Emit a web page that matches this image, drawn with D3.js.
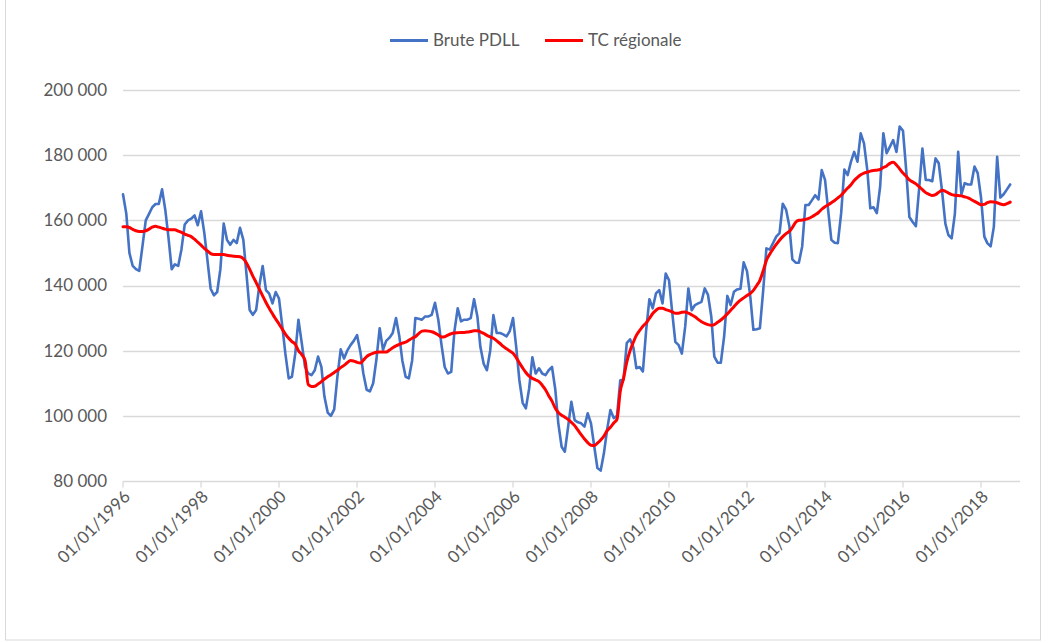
<!DOCTYPE html>
<html>
<head>
<meta charset="utf-8">
<script src="https://cdn.jsdelivr.net/npm/d3@7/dist/d3.min.js"></script>
<style>
  body { margin: 0; background: #fff; }
  text { font-family: Lato, "Open Sans", sans-serif; fill: #595959; }
</style>
</head>
<body>
<div id="chart"></div>
<script>
// monthly series, thousands, Jan 1996 -> Oct 2018
var brutePDLL = [
  168, 162, 150, 146, 145, 144.5, 152, 160, 162, 164, 165, 165,
  169.5, 163, 155, 145, 146.5, 146, 151, 158.7, 160, 160.5, 161.5, 158.5,
  162.8, 156, 148, 139, 137, 138, 145, 159, 154, 152.5, 154, 153,
  157.7, 154, 144, 132.5, 131, 132.5, 140, 146, 138.6, 137.5, 134.5, 138,
  136, 127.5, 119, 111.5, 112, 119, 129.5, 122.4, 115, 113, 112.5, 114,
  118.2, 115, 106, 101, 100, 102, 112, 120.4, 117.6, 120, 121.7, 123,
  124.8, 119.7, 113, 108, 107.5, 110, 117.2, 126.9, 120.3, 123, 124, 125.4,
  130, 124.4, 117, 112, 111.5, 117, 130, 129.8, 129.5, 130.5, 130.5, 131,
  134.7, 129.5, 122, 115, 113, 113.5, 126, 133, 129, 129.5, 129.5, 130,
  135.8, 130.5, 121.2, 116, 114, 120, 130.9, 125.4, 125.4, 125, 124.4, 126,
  130, 120.7, 111, 104, 102.3, 108.4, 118, 113, 114.6, 113, 112.5, 114,
  115, 108, 97.7, 90.5, 89, 96.7, 104.3, 98.7, 98, 97.7, 96.7, 100.8,
  97.7, 90.5, 84, 83.2, 88.5, 96, 101.8, 99.3, 100, 110.9, 111.1, 122.3,
  123.5, 121, 114.6, 115, 113.6, 126.4, 135.8, 133, 137.6, 138.6, 134.5, 143.7,
  141.6, 131.4, 122.7, 121.7, 119.1, 127.3, 139.1, 132.4, 134, 134.5, 135, 139.1,
  137.1, 130.4, 118.2, 116.3, 116.3, 124.4, 136.8, 134, 138.1, 138.8, 139, 147.1,
  144.4, 136.6, 126.4, 126.6, 126.9, 138.6, 151.4, 151, 153, 155, 156.1, 165.1,
  163.3, 158.2, 148, 147, 147, 152, 164.7, 164.7, 166.2, 167.7, 166.4, 175.4,
  172.4, 162.6, 154, 153.1, 153, 162.2, 175.6, 173.9, 178, 181, 178, 186.7,
  183.6, 175.4, 163.7, 164, 162.2, 170.3, 186.7, 180.6, 182.6, 184.6, 181, 188.8,
  187.5, 175, 161, 159.5, 158.2, 170, 182, 172.4, 172.4, 172, 179, 177.5,
  169, 159, 155.5, 154.5, 162, 181, 168, 171.4, 171, 171, 176.5, 174.5,
  167, 155, 153, 152, 158, 179.5, 167, 168, 169.5, 171
];

var tcRegionale = [
  158, 158, 157.8, 157.2, 156.8, 156.6, 156.6, 156.8, 157.3, 157.9, 158.2, 157.9,
  157.6, 157.3, 157.1, 157.1, 157.1, 156.7, 156.3, 155.8, 155.4, 155, 154.2, 153.3,
  152.4, 151.4, 150.6, 149.8, 149.5, 149.5, 149.5, 149.5, 149.3, 149.1, 149, 148.9,
  148.8, 148.2, 147, 145, 142.9, 140.9, 138.9, 136.8, 134.8, 133, 131.3, 129.7,
  128.2, 126.6, 125.1, 123.8, 122.8, 122, 120, 118.8, 117, 109.6, 109, 109.1,
  109.8, 110.5, 111.3, 112, 112.6, 113.3, 114, 114.8, 115.5, 116.3, 117, 116.8,
  116.4, 116.2, 117.1, 118.2, 118.8, 119.2, 119.5, 119.6, 119.6, 119.6, 120.2, 120.9,
  121.5, 121.9, 122.3, 122.6, 123.2, 123.8, 124.3, 125.2, 126, 126.1, 126, 125.8,
  125.4, 124.8, 124.2, 124.3, 124.8, 125.2, 125.4, 125.5, 125.6, 125.6, 125.7, 125.9,
  126.1, 126.1, 125.8, 125.3, 124.7, 124.2, 123.8, 123, 122.2, 121.3, 120.6, 119.9,
  119.2, 117.8, 116.3, 114.7, 113.3, 112.2, 111.5, 111, 110.5, 109.4, 108, 106.2,
  104.5, 102.3, 101, 100.2, 99.6, 98.9, 98, 97, 95.6, 94.2, 92.9, 91.8,
  91, 90.9, 91.6, 92.6, 93.8, 95.5, 96.5, 97.8, 99, 107.5, 111.5, 116.5,
  120, 122.6, 124.7, 126.2, 127.5, 128.5, 129.9, 131.4, 132.4, 133, 133, 132.6,
  132.3, 131.9, 131.5, 131.5, 131.8, 131.9, 131.5, 131, 130.4, 129.6, 128.9, 128.4,
  128, 127.8, 128, 128.7, 129.4, 130.3, 131.3, 132.4, 133.5, 134.6, 135.5, 136.2,
  136.9, 137.6, 138.5, 140, 141.6, 144.5, 147.7, 149.6, 151.2, 152.6, 153.9, 155,
  155.9, 156.6, 157.8, 159.4, 160, 160.1, 160.3, 160.6, 161.1, 161.7, 162.4, 163.4,
  164.2, 164.8, 165.4, 166.1, 166.9, 167.7, 168.8, 169.9, 170.9, 172.2, 173.2, 174,
  174.5, 174.8, 175.1, 175.3, 175.4, 175.6, 176.2, 176.7, 177.5, 177.8, 177, 175.8,
  174.5, 173.5, 172.4, 171.8, 171.2, 170.3, 169.4, 168.5, 168, 167.6, 167.9, 168.6,
  169.2, 168.9, 168.4, 167.9, 167.7, 167.6, 167.5, 167.2, 166.9, 166.4, 165.8, 165.3,
  164.8, 164.9, 165.4, 165.7, 165.6, 165.4, 165, 164.8, 165.1, 165.6
];

var yTicks = [80, 100, 120, 140, 160, 180, 200];
var yTickLabels = ['80 000', '100 000', '120 000', '140 000', '160 000', '180 000', '200 000'];
var xTickYears = [1996, 1998, 2000, 2002, 2004, 2006, 2008, 2010, 2012, 2014, 2016, 2018];
var seriesNames = ['Brute PDLL', 'TC régionale'];
var seriesColors = ['#4472C4', '#FF0000'];

var width = 1053, height = 643;
var plot = { left: 123, right: 1020, top: 90, bottom: 481 };

var svg = d3.select('#chart').append('svg')
  .attr('width', width).attr('height', height);

// chart area border
svg.append('rect')
  .attr('x', 5.5).attr('y', -2).attr('width', 1035).attr('height', 642)
  .attr('fill', 'none').attr('stroke', '#d9d9d9');

var x = d3.scaleTime()
  .domain([new Date(1996, 0, 1), new Date(2019, 0, 1)])
  .range([plot.left, plot.right]);
var y = d3.scaleLinear().domain([80, 200]).range([plot.bottom, plot.top]);

var monthDate = function (i) { return new Date(1996, i, 1); };

// gridlines + y labels
svg.append('g').selectAll('line').data(yTicks.slice(1)).enter().append('line')
  .attr('x1', plot.left).attr('x2', plot.right)
  .attr('y1', function (d) { return Math.round(y(d)) + 0.5; })
  .attr('y2', function (d) { return Math.round(y(d)) + 0.5; })
  .attr('stroke', '#d9d9d9').attr('stroke-width', 1.3);

svg.append('g').selectAll('text').data(yTicks).enter().append('text')
  .attr('x', 107).attr('y', function (d) { return y(d); })
  .attr('dy', '0.35em').attr('text-anchor', 'end')
  .style('font-size', '17px')
  .text(function (d, i) { return yTickLabels[i]; });

// x axis
var axX = svg.append('g').attr('transform', 'translate(0,' + (plot.bottom + 0.5) + ')');
axX.append('line').attr('x1', plot.left).attr('x2', plot.right)
  .attr('stroke', '#d9d9d9').attr('stroke-width', 1.3);
var ticks = axX.selectAll('g.tick').data(xTickYears).enter().append('g')
  .attr('class', 'tick')
  .attr('transform', function (d) { return 'translate(' + x(new Date(d, 0, 1)) + ',0)'; });
ticks.append('line').attr('y2', 6).attr('stroke', '#d9d9d9').attr('stroke-width', 1.3);
ticks.append('text')
  .attr('transform', 'translate(4,12) rotate(-45)')
  .attr('text-anchor', 'end').attr('dy', '0.35em')
  .style('font-size', '17px')
  .text(function (d) { return '01/01/' + d; });

// lines
var line = d3.line()
  .x(function (d, i) { return x(monthDate(i)); })
  .y(function (d) { return y(d); });

svg.append('path').datum(brutePDLL)
  .attr('d', line).attr('fill', 'none')
  .attr('stroke', seriesColors[0]).attr('stroke-width', 2.6)
  .attr('stroke-linejoin', 'round').attr('stroke-linecap', 'round');

svg.append('path').datum(tcRegionale)
  .attr('d', line.curve(d3.curveMonotoneX)).attr('fill', 'none')
  .attr('stroke', seriesColors[1]).attr('stroke-width', 3)
  .attr('stroke-linejoin', 'round').attr('stroke-linecap', 'round');

// legend
var legend = svg.append('g');
var legendX = [390, 545];
seriesNames.forEach(function (name, i) {
  legend.append('line')
    .attr('x1', legendX[i]).attr('x2', legendX[i] + 38)
    .attr('y1', 40.5).attr('y2', 40.5)
    .attr('stroke', seriesColors[i]).attr('stroke-width', 3);
  legend.append('text')
    .attr('x', legendX[i] + 43).attr('y', 40).attr('dy', '0.35em')
    .style('font-size', '17px')
    .text(name);
});
</script>
</body>
</html>
